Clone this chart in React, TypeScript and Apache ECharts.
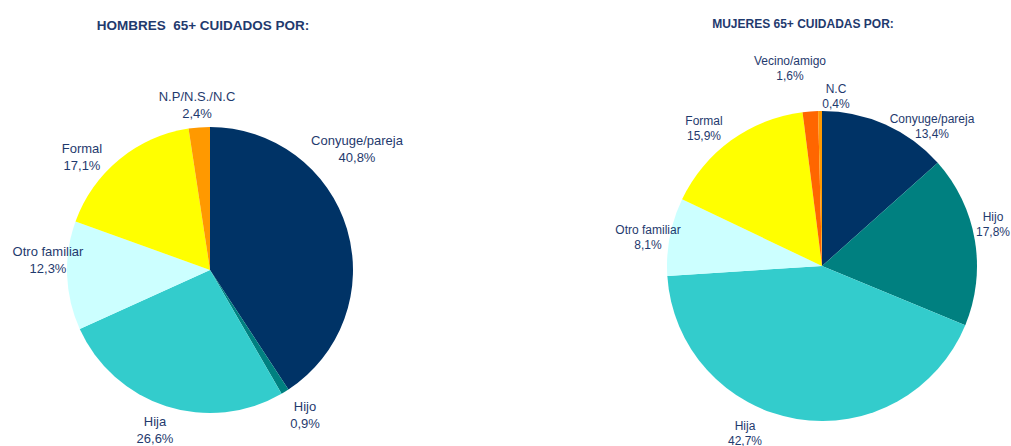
import React, { useEffect, useRef } from "react";
import * as echarts from "echarts";

const menCategories = ["Conyuge/pareja", "Hijo", "Hija", "Otro familiar", "Formal", "N.P/N.S./N.C"];
const menValues = [40.8, 0.9, 26.6, 12.3, 17.1, 2.4];
const womenCategories = ["Conyuge/pareja", "Hijo", "Hija", "Otro familiar", "Formal", "Vecino/amigo", "N.C"];
const womenValues = [13.4, 17.8, 42.7, 8.1, 15.9, 1.6, 0.4];

const menColors = ["#003366", "#008080", "#33CCCC", "#CCFFFF", "#FFFF00", "#FF9900"];
const womenColors = ["#003366", "#008080", "#33CCCC", "#CCFFFF", "#FFFF00", "#FF6600", "#FF9900"];

const menLabelPos = [
  [357, 149], [305, 415], [155, 430], [48, 260], [82, 157], [197, 105],
];
const womenLabelPos = [
  [932, 126], [993, 224], [745, 433], [648, 237], [704, 128], [790, 68], [836, 96],
];

const textColor = "#1F3A6E";
const fmt = (v: number) => v.toFixed(1).replace(".", ",");

export default function App() {
  const ref = useRef<HTMLDivElement>(null);
  useEffect(() => {
    if (!ref.current) return;
    const chart = echarts.init(ref.current, undefined, { renderer: "svg" });
    const makeSeries = (
      cats: string[],
      vals: number[],
      colors: string[],
      center: [number, number],
      radius: number,
      pos: number[][],
      fontSize: number,
      lineHeight: number
    ) => ({
      type: "pie",
      center,
      radius,
      startAngle: 90,
      clockwise: true,
      avoidLabelOverlap: false,
      data: cats.map((c, i) => ({ name: c, value: vals[i], itemStyle: { color: colors[i] } })),
      label: {
        show: true,
        position: "outside",
        formatter: (p: any) => `${p.name}\n${fmt(p.value)}%`,
        color: textColor,
        fontFamily: "Liberation Sans, Arial, sans-serif",
        fontSize,
        lineHeight,
        align: "center",
      },
      labelLine: { show: false },
      labelLayout: (p: any) => ({
        x: pos[p.dataIndex][0],
        y: pos[p.dataIndex][1],
        align: "center",
        verticalAlign: "middle",
      }),
      emphasis: { disabled: true },
    });
    chart.setOption({
      animation: false,
      backgroundColor: "#ffffff",
      title: [
        {
          text: "HOMBRES  65+ CUIDADOS POR:",
          left: 198,
          top: 13,
          textAlign: "center",
          textStyle: { color: "#1F3A6E", fontSize: 13.5, fontWeight: "bold", fontFamily: "Liberation Sans, Arial, sans-serif" },
        },
        {
          text: "MUJERES 65+ CUIDADAS POR:",
          left: 798,
          top: 13,
          textAlign: "center",
          textStyle: { color: "#1F3A6E", fontSize: 12, fontWeight: "bold", fontFamily: "Liberation Sans, Arial, sans-serif" },
        },
      ],
      series: [
        makeSeries(menCategories, menValues, menColors, [210, 270], 143, menLabelPos, 13, 17),
        makeSeries(womenCategories, womenValues, womenColors, [822, 266], 155, womenLabelPos, 12, 15),
      ],
    });
    return () => chart.dispose();
  }, []);
  return (
    <div
      ref={ref}
      style={{ position: "fixed", left: 0, top: 0, width: 1011, height: 446 }}
    />
  );
}
